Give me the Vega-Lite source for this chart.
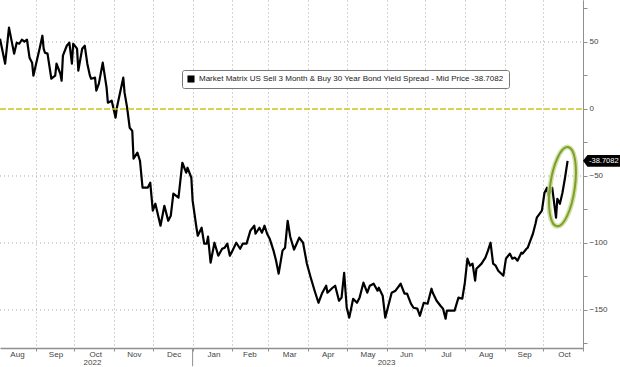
{
  "$schema": "https://vega.github.io/schema/vega-lite/v6.json",
  "width": 583,
  "height": 348,
  "autosize": "none",
  "padding": {"left": 0, "top": 0, "right": 37, "bottom": 19},
  "background": "white",
  "config": {
    "view": {"stroke": null},
    "font": "Liberation Sans",
    "axis": {"title": null}
  },
  "datasets": {
    "spread": [
      {"date": "2022-08-04", "value": 52.5},
      {"date": "2022-08-08", "value": 33.8},
      {"date": "2022-08-11", "value": 60.7},
      {"date": "2022-08-15", "value": 41.3},
      {"date": "2022-08-17", "value": 49.5},
      {"date": "2022-08-19", "value": 48.7},
      {"date": "2022-08-21", "value": 51.7},
      {"date": "2022-08-23", "value": 50.2},
      {"date": "2022-08-25", "value": 51.7},
      {"date": "2022-08-27", "value": 38.3},
      {"date": "2022-08-29", "value": 34.6},
      {"date": "2022-08-30", "value": 24.9},
      {"date": "2022-09-02", "value": 37.5},
      {"date": "2022-09-04", "value": 45.7},
      {"date": "2022-09-06", "value": 54.7},
      {"date": "2022-09-07", "value": 45.0},
      {"date": "2022-09-08", "value": 42.0},
      {"date": "2022-09-10", "value": 41.3},
      {"date": "2022-09-13", "value": 22.6},
      {"date": "2022-09-16", "value": 24.9},
      {"date": "2022-09-17", "value": 33.8},
      {"date": "2022-09-20", "value": 26.3},
      {"date": "2022-09-21", "value": 21.1},
      {"date": "2022-09-22", "value": 39.8},
      {"date": "2022-09-25", "value": 47.2},
      {"date": "2022-09-27", "value": 49.5},
      {"date": "2022-09-29", "value": 33.8},
      {"date": "2022-09-30", "value": 48.7},
      {"date": "2022-10-03", "value": 45.0},
      {"date": "2022-10-04", "value": 28.6},
      {"date": "2022-10-07", "value": 45.0},
      {"date": "2022-10-09", "value": 47.2},
      {"date": "2022-10-11", "value": 33.8},
      {"date": "2022-10-13", "value": 24.9},
      {"date": "2022-10-14", "value": 22.6},
      {"date": "2022-10-17", "value": 23.4},
      {"date": "2022-10-18", "value": 13.7},
      {"date": "2022-10-20", "value": 18.9},
      {"date": "2022-10-23", "value": 34.6},
      {"date": "2022-10-26", "value": 15.9},
      {"date": "2022-10-27", "value": 4.7},
      {"date": "2022-10-30", "value": 6.2},
      {"date": "2022-11-02", "value": -6.5},
      {"date": "2022-11-03", "value": 1.0},
      {"date": "2022-11-08", "value": 23.4},
      {"date": "2022-11-09", "value": 12.2},
      {"date": "2022-11-11", "value": 1.0},
      {"date": "2022-11-13", "value": -14.0},
      {"date": "2022-11-15", "value": -16.3},
      {"date": "2022-11-16", "value": -37.1},
      {"date": "2022-11-19", "value": -32.6},
      {"date": "2022-11-21", "value": -38.6},
      {"date": "2022-11-23", "value": -58.7},
      {"date": "2022-11-27", "value": -58.7},
      {"date": "2022-11-29", "value": -55.0},
      {"date": "2022-12-01", "value": -75.9},
      {"date": "2022-12-03", "value": -70.7},
      {"date": "2022-12-07", "value": -87.1},
      {"date": "2022-12-10", "value": -72.2},
      {"date": "2022-12-13", "value": -83.4},
      {"date": "2022-12-15", "value": -79.6},
      {"date": "2022-12-17", "value": -63.2},
      {"date": "2022-12-21", "value": -66.2},
      {"date": "2022-12-24", "value": -40.1},
      {"date": "2022-12-27", "value": -47.5},
      {"date": "2022-12-28", "value": -43.8},
      {"date": "2022-12-31", "value": -51.3},
      {"date": "2023-01-01", "value": -68.4},
      {"date": "2023-01-04", "value": -88.6},
      {"date": "2023-01-05", "value": -94.6},
      {"date": "2023-01-08", "value": -88.6},
      {"date": "2023-01-10", "value": -100.5},
      {"date": "2023-01-12", "value": -100.5},
      {"date": "2023-01-13", "value": -95.3},
      {"date": "2023-01-15", "value": -114.7},
      {"date": "2023-01-18", "value": -99.8},
      {"date": "2023-01-21", "value": -109.5},
      {"date": "2023-01-24", "value": -104.3},
      {"date": "2023-01-26", "value": -103.5},
      {"date": "2023-01-28", "value": -100.5},
      {"date": "2023-01-30", "value": -109.5},
      {"date": "2023-02-01", "value": -105.7},
      {"date": "2023-02-04", "value": -99.8},
      {"date": "2023-02-07", "value": -104.3},
      {"date": "2023-02-09", "value": -100.5},
      {"date": "2023-02-12", "value": -100.5},
      {"date": "2023-02-15", "value": -90.8},
      {"date": "2023-02-18", "value": -87.1},
      {"date": "2023-02-19", "value": -93.1},
      {"date": "2023-02-22", "value": -88.6},
      {"date": "2023-02-24", "value": -92.3},
      {"date": "2023-02-26", "value": -87.1},
      {"date": "2023-02-28", "value": -93.1},
      {"date": "2023-03-02", "value": -96.8},
      {"date": "2023-03-05", "value": -105.7},
      {"date": "2023-03-07", "value": -113.2},
      {"date": "2023-03-09", "value": -122.9},
      {"date": "2023-03-12", "value": -105.7},
      {"date": "2023-03-14", "value": -103.5},
      {"date": "2023-03-16", "value": -83.4},
      {"date": "2023-03-18", "value": -95.3},
      {"date": "2023-03-21", "value": -104.9},
      {"date": "2023-03-24", "value": -98.3},
      {"date": "2023-03-25", "value": -96.0},
      {"date": "2023-03-28", "value": -99.8},
      {"date": "2023-03-31", "value": -115.5},
      {"date": "2023-04-03", "value": -125.9},
      {"date": "2023-04-06", "value": -135.6},
      {"date": "2023-04-09", "value": -144.6},
      {"date": "2023-04-12", "value": -137.1},
      {"date": "2023-04-15", "value": -131.9},
      {"date": "2023-04-16", "value": -137.1},
      {"date": "2023-04-20", "value": -133.4},
      {"date": "2023-04-22", "value": -131.9},
      {"date": "2023-04-25", "value": -143.1},
      {"date": "2023-04-27", "value": -140.8},
      {"date": "2023-04-29", "value": -122.2},
      {"date": "2023-05-01", "value": -148.3},
      {"date": "2023-05-03", "value": -155.7},
      {"date": "2023-05-06", "value": -141.6},
      {"date": "2023-05-09", "value": -144.6},
      {"date": "2023-05-11", "value": -140.8},
      {"date": "2023-05-14", "value": -129.6},
      {"date": "2023-05-17", "value": -137.1},
      {"date": "2023-05-19", "value": -131.9},
      {"date": "2023-05-22", "value": -130.4},
      {"date": "2023-05-25", "value": -135.6},
      {"date": "2023-05-26", "value": -133.4},
      {"date": "2023-05-29", "value": -139.3},
      {"date": "2023-05-31", "value": -155.7},
      {"date": "2023-06-02", "value": -148.3},
      {"date": "2023-06-05", "value": -137.1},
      {"date": "2023-06-08", "value": -135.6},
      {"date": "2023-06-12", "value": -130.4},
      {"date": "2023-06-15", "value": -137.8},
      {"date": "2023-06-17", "value": -137.8},
      {"date": "2023-06-20", "value": -145.3},
      {"date": "2023-06-22", "value": -148.3},
      {"date": "2023-06-25", "value": -149.0},
      {"date": "2023-06-27", "value": -154.3},
      {"date": "2023-06-30", "value": -144.6},
      {"date": "2023-07-03", "value": -145.3},
      {"date": "2023-07-06", "value": -134.1},
      {"date": "2023-07-07", "value": -137.1},
      {"date": "2023-07-10", "value": -143.1},
      {"date": "2023-07-13", "value": -146.8},
      {"date": "2023-07-15", "value": -149.0},
      {"date": "2023-07-17", "value": -156.5},
      {"date": "2023-07-18", "value": -150.5},
      {"date": "2023-07-22", "value": -150.5},
      {"date": "2023-07-24", "value": -150.5},
      {"date": "2023-07-27", "value": -140.8},
      {"date": "2023-07-30", "value": -141.6},
      {"date": "2023-08-01", "value": -129.6},
      {"date": "2023-08-03", "value": -111.7},
      {"date": "2023-08-05", "value": -116.9},
      {"date": "2023-08-07", "value": -115.4},
      {"date": "2023-08-09", "value": -128.1},
      {"date": "2023-08-10", "value": -119.2},
      {"date": "2023-08-14", "value": -115.4},
      {"date": "2023-08-17", "value": -110.9},
      {"date": "2023-08-19", "value": -105.7},
      {"date": "2023-08-21", "value": -99.8},
      {"date": "2023-08-23", "value": -115.4},
      {"date": "2023-08-25", "value": -116.9},
      {"date": "2023-08-27", "value": -120.7},
      {"date": "2023-08-31", "value": -124.4},
      {"date": "2023-09-02", "value": -111.7},
      {"date": "2023-09-05", "value": -107.9},
      {"date": "2023-09-07", "value": -111.7},
      {"date": "2023-09-09", "value": -110.9},
      {"date": "2023-09-11", "value": -113.2},
      {"date": "2023-09-14", "value": -107.2},
      {"date": "2023-09-15", "value": -107.9},
      {"date": "2023-09-18", "value": -104.3},
      {"date": "2023-09-19", "value": -103.5},
      {"date": "2023-09-21", "value": -98.3},
      {"date": "2023-09-23", "value": -93.1},
      {"date": "2023-09-25", "value": -85.6},
      {"date": "2023-09-26", "value": -81.1},
      {"date": "2023-09-30", "value": -75.9},
      {"date": "2023-10-02", "value": -62.5},
      {"date": "2023-10-04", "value": -58.7},
      {"date": "2023-10-05", "value": -64.7},
      {"date": "2023-10-08", "value": -58.7},
      {"date": "2023-10-09", "value": -66.2},
      {"date": "2023-10-11", "value": -81.1},
      {"date": "2023-10-12", "value": -67.0},
      {"date": "2023-10-14", "value": -70.7},
      {"date": "2023-10-16", "value": -62.5},
      {"date": "2023-10-18", "value": -51.3},
      {"date": "2023-10-20", "value": -38.7082}
    ],
    "hgrid": [
      {"level": 50},
      {"level": -50},
      {"level": -100},
      {"level": -150}
    ],
    "zero": [
      {"level": 0}
    ],
    "years": [
      {"date": "2022-10-15", "year": "2022"},
      {"date": "2023-06-01", "year": "2023"}
    ],
    "yearBreaks": [
      {"date": "2023-01-01"}
    ],
    "highlight": [
      {"date": "2023-10-16", "value": -58}
    ],
    "last": [
      {"value": -38.7082, "label": "-38.7082"}
    ]
  },
  "layer": [
    {
      "data": {"name": "hgrid"},
      "mark": {"type": "rule", "color": "#a8a8a8", "strokeWidth": 1, "strokeDash": [1, 3]},
      "encoding": {
        "x": {"datum": {"year": 2022, "month": 8, "date": 4, "utc": true}, "type": "temporal"},
        "x2": {"datum": {"year": 2023, "month": 11, "date": 1, "utc": true}},
        "y": {"field": "level", "type": "quantitative"}
      }
    },
    {
      "data": {"name": "spread"},
      "mark": {"type": "line", "strokeWidth": 2.2, "strokeJoin": "round"},
      "encoding": {
        "x": {
          "field": "date",
          "type": "temporal",
          "scale": {
            "type": "utc",
            "domain": [
              {"year": 2022, "month": 8, "date": 4, "utc": true},
              {"year": 2023, "month": 11, "date": 1, "utc": true}
            ]
          },
          "axis": {
            "orient": "bottom",
            "tickCount": 30,
            "values": [
              {"year": 2022, "month": 9, "date": 1, "utc": true},
              {"year": 2022, "month": 10, "date": 1, "utc": true},
              {"year": 2022, "month": 11, "date": 1, "utc": true},
              {"year": 2022, "month": 12, "date": 1, "utc": true},
              {"year": 2023, "month": 1, "date": 1, "utc": true},
              {"year": 2023, "month": 2, "date": 1, "utc": true},
              {"year": 2023, "month": 3, "date": 1, "utc": true},
              {"year": 2023, "month": 4, "date": 1, "utc": true},
              {"year": 2023, "month": 5, "date": 1, "utc": true},
              {"year": 2023, "month": 6, "date": 1, "utc": true},
              {"year": 2023, "month": 7, "date": 1, "utc": true},
              {"year": 2023, "month": 8, "date": 1, "utc": true},
              {"year": 2023, "month": 9, "date": 1, "utc": true},
              {"year": 2023, "month": 10, "date": 1, "utc": true},
              {"year": 2023, "month": 11, "date": 1, "utc": true}
            ],
            "labelExpr": "utcFormat(datum.value - 86400000, '%b')",
            "labelOffset": -19,
            "labelPadding": -1,
            "labelFontSize": 8,
            "labelColor": "#444",
            "labelFont": "Liberation Sans",
            "grid": true,
            "gridColor": "#a8a8a8",
            "gridDash": [1, 3],
            "gridWidth": 1,
            "domainColor": "#8f8f8f",
            "domainWidth": 1.5,
            "tickColor": "#8f8f8f",
            "tickSize": 3,
            "labelFlush": false,
            "labelOverlap": false
          }
        },
        "y": {
          "field": "value",
          "type": "quantitative",
          "scale": {"domain": [-178.36, 81.343], "nice": false, "zero": false},
          "axis": {
            "orient": "right",
            "tickCount": 30,
            "values": [-175, -150, -125, -100, -75, -50, -25, 0, 25, 50, 75],
            "labelExpr": "datum.value % 50 === 0 ? datum.label : ''",
            "labelFontSize": 8,
            "labelColor": "#444",
            "labelFont": "Liberation Sans",
            "labelPadding": 2,
            "labelOverlap": false,
            "grid": false,
            "domainColor": "#8f8f8f",
            "domainWidth": 1,
            "tickColor": "#8f8f8f",
            "tickSize": 4
          }
        },
        "color": {
          "datum": "Market Matrix US Sell 3 Month & Buy 30 Year Bond Yield Spread - Mid Price -38.7082",
          "type": "nominal",
          "scale": {"range": ["#000000"]},
          "legend": {
            "orient": "none",
            "legendX": 182,
            "legendY": 70,
            "title": null,
            "symbolType": "square",
            "symbolSize": 50,
            "symbolFillColor": "#000000",
            "symbolStrokeColor": "#000000",
            "symbolStrokeWidth": 0,
            "labelFontSize": 8,
            "labelFont": "Liberation Sans",
            "labelColor": "#222",
            "labelLimit": 600,
            "padding": 5,
            "fillColor": "#ffffff",
            "strokeColor": "#777777",
            "cornerRadius": 2,
            "encode": {"symbols": {"update": {"fill": {"value": "#000000"}, "stroke": {"value": "#000000"}}}}
          }
        }
      }
    },
    {
      "data": {"name": "zero"},
      "mark": {"type": "rule", "color": "#cfc21a", "strokeWidth": 1.5, "strokeDash": [6, 2]},
      "encoding": {
        "x": {"datum": {"year": 2022, "month": 8, "date": 4, "utc": true}, "type": "temporal"},
        "x2": {"datum": {"year": 2023, "month": 11, "date": 1, "utc": true}},
        "y": {"field": "level", "type": "quantitative"}
      }
    },
    {
      "data": {"name": "yearBreaks"},
      "mark": {"type": "rule", "color": "#8f8f8f", "strokeWidth": 1},
      "encoding": {
        "x": {"field": "date", "type": "temporal"},
        "y": {"datum": -178.36, "type": "quantitative"},
        "y2": {"datum": -192}
      }
    },
    {
      "data": {"name": "highlight"},
      "mark": {
        "type": "point",
        "shape": "M0,-1 A0.31,1 0 1,1 0,1 A0.31,1 0 1,1 0,-1 Z",
        "size": 6400,
        "angle": 8,
        "filled": false,
        "stroke": "#c8dc92",
        "strokeWidth": 5,
        "opacity": 0.8
      },
      "encoding": {
        "x": {"field": "date", "type": "temporal"},
        "y": {"field": "value", "type": "quantitative"}
      }
    },
    {
      "data": {"name": "highlight"},
      "mark": {
        "type": "point",
        "shape": "M0,-1 A0.31,1 0 1,1 0,1 A0.31,1 0 1,1 0,-1 Z",
        "size": 6400,
        "angle": 8,
        "filled": false,
        "stroke": "#7f9e2c",
        "strokeWidth": 2,
        "opacity": 1
      },
      "encoding": {
        "x": {"field": "date", "type": "temporal"},
        "y": {"field": "value", "type": "quantitative"}
      }
    },
    {
      "data": {"name": "last"},
      "mark": {
        "type": "point",
        "shape": "M0,0 L0.12,-0.16 L1,-0.16 L1,0.16 L0.12,0.16 Z",
        "size": 5476,
        "filled": true,
        "color": "#000000",
        "opacity": 1
      },
      "encoding": {
        "x": {"datum": {"year": 2023, "month": 11, "date": 1, "utc": true}, "type": "temporal"},
        "y": {"field": "value", "type": "quantitative"}
      }
    },
    {
      "data": {"name": "last"},
      "mark": {"type": "text", "align": "left", "baseline": "middle", "dx": 6, "fontSize": 7.5, "color": "#ffffff", "font": "Liberation Sans"},
      "encoding": {
        "x": {"datum": {"year": 2023, "month": 11, "date": 1, "utc": true}, "type": "temporal"},
        "y": {"field": "value", "type": "quantitative"},
        "text": {"field": "label"}
      }
    },
    {
      "data": {"name": "years"},
      "mark": {"type": "text", "align": "center", "baseline": "middle", "dy": 15, "fontSize": 8, "color": "#444", "font": "Liberation Sans"},
      "encoding": {
        "x": {"field": "date", "type": "temporal"},
        "y": {"datum": -178.36, "type": "quantitative"},
        "text": {"field": "year"}
      }
    }
  ]
}
